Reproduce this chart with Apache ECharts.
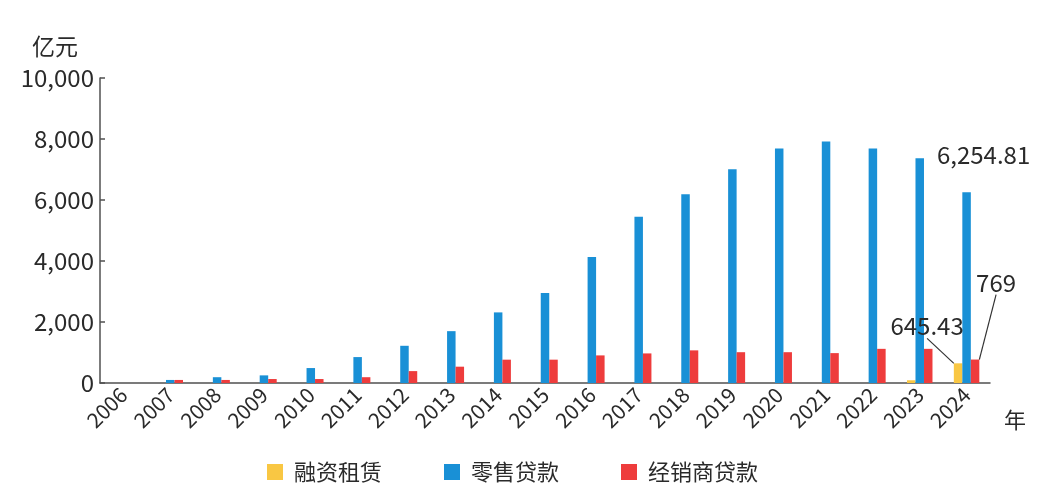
<!DOCTYPE html>
<html><head><meta charset="utf-8">
<script src="https://cdn.jsdelivr.net/npm/echarts@6/dist/echarts.min.js"></script>
<style>html,body{margin:0;padding:0;background:#fff}#c{width:1059px;height:500px}</style>
</head><body><div id="c"></div>
<script>
const years = ['2006','2007','2008','2009','2010','2011','2012','2013','2014','2015','2016','2017','2018','2019','2020','2021','2022','2023','2024'];
const seriesNames = ['融资租赁','零售贷款','经销商贷款'];
const finLease = [0,0,0,0,0,0,0,0,0,0,0,0,0,0,0,0,0,90,645.43];
const retail = [0,100,190,250,490,850,1220,1700,2315,2950,4130,5450,6190,7010,7690,7920,7690,7370,6254.81];
const dealer = [0,100,100,130,130,190,390,535,765,765,905,970,1070,1010,1010,980,1120,1120,769];
const yTicks = [0,2000,4000,6000,8000,10000];
const colors = ['#F9C743','#1990D6','#EE3C3C'];
const FONT = 'Noto Sans CJK SC';
const TXT = '#2a2a2a';

function fmt(v){ return Number(v).toLocaleString('en-US',{maximumFractionDigits:2}); }
const last = years.length - 1;
function mk(arr, labelCfg){
  return arr.map((v,i)=> i===last ? {value:v, label:Object.assign({show:true, position:'top', fontSize:24, color:TXT, fontFamily:FONT, formatter:(p)=>fmt(p.value)}, labelCfg)} : v);
}
const chart = echarts.init(document.getElementById('c'));
chart.setOption({
  textStyle:{fontFamily:FONT},
  color: colors,
  grid:{left:100,right:69,top:78,bottom:117},
  legend:{bottom:12,left:262,icon:'rect',itemWidth:16,itemHeight:16,itemGap:62,
    textStyle:{fontSize:22,color:TXT,fontFamily:FONT,padding:[0,0,0,6]},data:seriesNames},
  xAxis:{type:'category',data:years,name:'年',nameLocation:'end',nameGap:14,
    nameTextStyle:{fontSize:22,color:TXT,verticalAlign:'top',padding:[26,0,0,0]},
    axisLine:{lineStyle:{color:'#505050',width:1.5}},
    axisTick:{inside:true,length:5,lineStyle:{color:'#505050',width:1.5}},
    axisLabel:{rotate:45,fontSize:21,color:TXT,margin:8}},
  yAxis:{type:'value',min:0,max:10000,interval:2000,name:'亿元',nameLocation:'end',nameGap:20,
    nameTextStyle:{fontSize:23,color:TXT,align:'right',padding:[0,22,0,0]},
    splitLine:{show:false},
    axisLine:{show:true,lineStyle:{color:'#505050',width:1.5}},
    axisTick:{show:true,inside:true,length:5,lineStyle:{color:'#505050',width:1.5}},
    axisLabel:{fontSize:24,color:TXT,margin:6,formatter:(v)=>fmt(v)}},
  series:[
    {name:seriesNames[0],type:'bar',barWidth:8.5,barGap:'0%',data:mk(finLease,{}),
      labelLayout:(p)=> p.dataIndex===last ? {dx:-31,dy:-20} : {},
      labelLine:{show:true,lineStyle:{color:'#333',width:1.2}}},
    {name:seriesNames[1],type:'bar',barWidth:8.5,barGap:'0%',data:mk(retail,{offset:[17,-20]})},
    {name:seriesNames[2],type:'bar',barWidth:8.5,barGap:'0%',data:mk(dealer,{}),
      labelLayout:(p)=> p.dataIndex===last ? {dx:21,dy:-60} : {},
      labelLine:{show:true,lineStyle:{color:'#333',width:1.2}}}
  ]
});
</script></body></html>
